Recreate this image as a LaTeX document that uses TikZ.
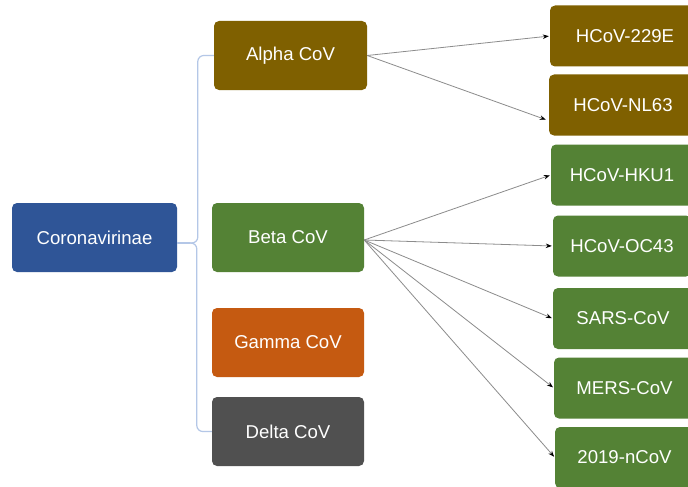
\documentclass[tikz,border=0pt]{standalone}
\usepackage{fontspec}
\setmainfont{Liberation Sans}
\usetikzlibrary{arrows.meta,calc}
\definecolor{cblue}{RGB}{47,85,151}
\definecolor{cbrown}{RGB}{127,96,0}
\definecolor{cgreen}{RGB}{84,130,53}
\definecolor{corange}{RGB}{197,90,17}
\definecolor{cgray}{RGB}{80,80,80}
\definecolor{cline}{RGB}{180,199,231}
\definecolor{carrow}{RGB}{140,140,140}
\tikzset{
  box/.style={rounded corners=5pt, text=white, font=\fontsize{18.6}{21}\selectfont, inner sep=0pt, align=center},
  midbox/.style={box, minimum width=152pt, minimum height=69pt},
  leafbox/.style={box, minimum height=61pt},
  conn/.style={draw=carrow, line width=0.8pt, -{Stealth[length=6pt,width=4.5pt,color=black]}, shorten >=1pt},
  brace/.style={draw=cline, line width=1.2pt, rounded corners=6pt}
}
\begin{document}
\begin{tikzpicture}[x=1pt,y=-1pt]
\useasboundingbox (0,0) rectangle (688,487);
\fill[white] (0,0) rectangle (688,487);
\node[box, fill=cblue, minimum width=165pt, minimum height=69pt] (coro) at (94.5,237.5) {Coronavirinae};
\node[midbox, fill=cbrown, minimum width=153pt] (alpha) at (290.5,55.5) {Alpha CoV};
\node[midbox, fill=cgreen] (beta) at (288,237.5) {Beta CoV};
\node[midbox, fill=corange] (gamma) at (288,342.5) {Gamma CoV};
\node[midbox, fill=cgray] (delta) at (288,431.5) {Delta CoV};
\node[leafbox, fill=cbrown, minimum width=150pt] (e229) at (625,36) {HCoV-229E};
\node[leafbox, fill=cbrown, minimum width=148pt] (nl63) at (623,105) {HCoV-NL63};
\node[leafbox, fill=cgreen, minimum width=142pt] (hku1) at (622,175) {HCoV-HKU1};
\node[leafbox, fill=cgreen, minimum width=138pt] (oc43) at (622,246) {HCoV-OC43};
\node[leafbox, fill=cgreen, minimum width=140pt] (sars) at (623,318.5) {SARS-CoV};
\node[leafbox, fill=cgreen, minimum width=141pt] (mers) at (624.5,388) {MERS-CoV};
\node[leafbox, fill=cgreen, minimum width=139pt] (ncov) at (624.5,457.5) {2019-nCoV};
% brace
\coordinate (bj) at ($(coro.east)+(0,5.5)$);
\draw[brace] (alpha.west) -- ++(-16,0) |- (bj -| 190,0) ;
\draw[brace] (delta.west) -- ++(-15,0) |- (bj -| 190,0);
\draw[draw=cline, line width=1.2pt] (bj) -- ++(13,0);
% arrows
\draw[conn] (alpha.east) -- (e229.west);
\draw[conn] (alpha.east) -- ($(nl63.west)+(-2,15)$);
\draw[conn] ($(beta.east)+(0,2.5)$) -- (hku1.west);
\draw[conn] ($(beta.east)+(0,2.5)$) -- (oc43.west);
\draw[conn] ($(beta.east)+(0,2.5)$) -- (sars.west);
\draw[conn] ($(beta.east)+(0,2.5)$) -- (mers.west);
\draw[conn] ($(beta.east)+(0,2.5)$) -- (ncov.west);
\end{tikzpicture}
\end{document}
